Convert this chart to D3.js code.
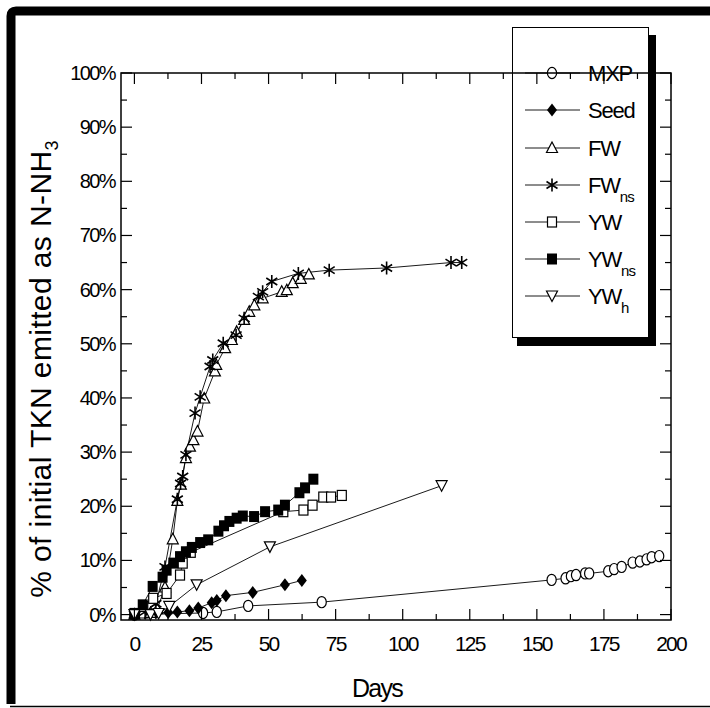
<!DOCTYPE html>
<html><head><meta charset="utf-8">
<script src="https://cdn.jsdelivr.net/npm/d3@7"></script>
<style>
body{margin:0;background:#fff;}
svg text{font-family:"Liberation Sans",Arial,sans-serif;fill:#000;}
</style></head>
<body><svg id="c" width="710" height="708"></svg>
<script>
// ---------- data ----------
const seriesNames = ["MXP","Seed","FW","FWns","YW","YWns","YWh"];
const mxpDays = [0, 25.6, 30.7, 42.4, 69.8, 155.5, 160.7, 162.7, 164.6, 168, 169.5, 176.6, 178.8, 181.6, 185.7, 188.4, 190.9, 192.8, 195.6];
const mxpVals = [0, 0.3, 0.5, 1.6, 2.3, 6.4, 6.7, 7.1, 7.3, 7.6, 7.6, 8.0, 8.4, 8.8, 9.6, 9.8, 10.2, 10.6, 10.8];
const seedDays = [0, 4, 8, 12.6, 16, 20.5, 23.8, 28.8, 30.7, 34.1, 44.1, 56.1, 62.4];
const seedVals = [0, 0.2, 0.3, 0.4, 0.5, 0.7, 1.2, 2.2, 2.6, 3.5, 4.1, 5.5, 6.3];
const fwDays = [0, 3, 6, 8.5, 11.4, 14.3, 16, 17.3, 19.2, 20.7, 22, 23.5, 26, 30, 30.5, 33.8, 36.3, 38.1, 40.9, 42.8, 44.7, 47.8, 54.9, 56.8, 59, 62, 65];
const fwVals = [0, 0.2, 0.3, 1, 5, 13.9, 21, 24, 28.9, 31, 32.2, 33.8, 39.9, 44.9, 46.1, 49.2, 50.7, 52.2, 54.4, 55.9, 57.1, 58.4, 59.6, 59.9, 61.2, 62, 62.8];
const fwnsDays = [0, 4, 8, 11.4, 16, 17.2, 18, 19.2, 22.6, 24.5, 28.2, 29.2, 33.1, 37.9, 40.9, 46.2, 47.8, 51.2, 61.1, 72.6, 94, 118, 122];
const fwnsVals = [0, 0.5, 2, 8.8, 21.3, 24.2, 25.5, 29.5, 37.2, 40.2, 45.8, 47, 50.1, 51.6, 54.7, 58.7, 59.6, 61.5, 63, 63.6, 64, 65, 65];
const ywDays = [0.2, 3.3, 7, 12, 17, 18, 21, 55.5, 63, 66.4, 70.4, 73.3, 77.3];
const ywVals = [0.2, 1.5, 3.0, 3.9, 7.3, 9.5, 11.5, 19, 19.3, 20.2, 21.7, 21.7, 22];
const ywnsDays = [0, 3.1, 6.8, 10.5, 12, 14.5, 17, 19.2, 21.4, 24.5, 27.5, 31.3, 33.4, 35.4, 38.1, 40.4, 44.6, 48.7, 53.6, 56.1, 61.5, 63.6, 66.7];
const ywnsVals = [0.2, 1.8, 5.2, 6.9, 8.2, 9.5, 10.7, 11.6, 12.4, 13.3, 13.8, 15.4, 16.4, 17.2, 17.8, 18.2, 18.1, 19, 19.3, 20.2, 22.5, 23.4, 25];
const ywhDays = [0, 6, 9, 13, 23.2, 50.5, 114.5];
const ywhVals = [0, 0, 0.2, 1.5, 5.5, 12.5, 23.8];
const xTicks = [0, 25, 50, 75, 100, 125, 150, 175, 200];
const yTicks = [0,10,20,30,40,50,60,70,80,90,100];

// ---------- setup ----------
const svg = d3.select("#c");
const x = d3.scaleLinear([-5, 200], [121, 671]);
const y = d3.scaleLinear([-1, 100], [620, 73]);

// outer frame
svg.append("path").attr("d","M11,704 L11,16 Q11,11 16,11 L710,11").attr("fill","none").attr("stroke","#000").attr("stroke-width",9);
svg.append("line").attr("x1",10).attr("x2",710).attr("y1",706.5).attr("y2",706.5).attr("stroke","#000").attr("stroke-width",1.5);

const series = [
  {name:"MXP", d:mxpDays, v:mxpVals, sym:"circle"},
  {name:"Seed", d:seedDays, v:seedVals, sym:"diamond"},
  {name:"FW", d:fwDays, v:fwVals, sym:"tri"},
  {name:"FWns", d:fwnsDays, v:fwnsVals, sym:"star"},
  {name:"YW", d:ywDays, v:ywVals, sym:"square"},
  {name:"YWns", d:ywnsDays, v:ywnsVals, sym:"fsquare"},
  {name:"YWh", d:ywhDays, v:ywhVals, sym:"dtri"}
];

function marker(g, sym, cx, cy){
  const s = g.append("g").attr("transform",`translate(${cx},${cy})`);
  if(sym==="circle") s.append("ellipse").attr("rx",4.6).attr("ry",5.6).attr("fill","#fff").attr("stroke","#000").attr("stroke-width",1.2);
  if(sym==="diamond") s.append("path").attr("d","M0,-6.5 L5,0 L0,6.5 L-5,0 Z").attr("fill","#000");
  if(sym==="tri") s.append("path").attr("d","M0,-6 L5.5,4.5 L-5.5,4.5 Z").attr("fill","#fff").attr("stroke","#000").attr("stroke-width",1.2);
  if(sym==="dtri") s.append("path").attr("d","M0,5.5 L5.5,-5 L-5.5,-5 Z").attr("fill","#fff").attr("stroke","#000").attr("stroke-width",1.2);
  if(sym==="square") s.append("rect").attr("x",-4.5).attr("y",-5).attr("width",9).attr("height",10).attr("fill","#fff").attr("stroke","#000").attr("stroke-width",1.2);
  if(sym==="fsquare") s.append("rect").attr("x",-5).attr("y",-5.5).attr("width",10).attr("height",11).attr("fill","#000");
  if(sym==="star") s.append("path").attr("d","M0,-6.5 L0,6.5 M-5.5,-3.5 L5.5,3.5 M-5.5,3.5 L5.5,-3.5").attr("fill","none").attr("stroke","#000").attr("stroke-width",1.6);
}

const line = d3.line().x(p=>x(p[0])).y(p=>y(p[1]));
const plot = svg.append("g");
series.forEach(s=>{
  const pts = s.d.map((dd,i)=>[dd, s.v[i]]);
  plot.append("path").attr("d", line(pts)).attr("fill","none").attr("stroke","#000").attr("stroke-width",0.9);
});
series.forEach(s=>{
  s.d.forEach((dd,i)=> marker(plot, s.sym, x(dd), y(s.v[i])));
});

// legend
const lg = svg.append("g");
lg.append("rect").attr("x",649).attr("y",35).attr("width",7).attr("height",311).attr("fill","#000");
lg.append("rect").attr("x",517).attr("y",337).attr("width",139).attr("height",9).attr("fill","#000");
lg.append("rect").attr("x",512.5).attr("y",27.5).attr("width",136).attr("height",310).attr("fill","#fff").attr("stroke","#000").attr("stroke-width",1);
const legY = [73, 110, 148, 185, 222, 259, 296];
series.forEach((s,i)=>{
  const yy = legY[i];
  lg.append("line").attr("x1",525).attr("x2",580).attr("y1",yy).attr("y2",yy).attr("stroke","#000").attr("stroke-width",0.9);
  marker(lg, s.sym, 552, yy);
  const t = lg.append("text").attr("x",588).attr("y",yy+7.5).attr("font-size",22).attr("letter-spacing",-1.2);
  const base = s.name.replace(/(ns|h)$/,"");
  const sub = s.name.slice(base.length);
  t.append("tspan").text(base);
  if(sub) t.append("tspan").attr("font-size",15).attr("dy",9).attr("letter-spacing",-0.8).text(sub);
});

// axes
const ax = svg.append("g");
ax.append("rect").attr("x",x(-5)).attr("y",y(100)).attr("width",x(200)-x(-5)).attr("height",y(-1)-y(100)).attr("fill","none").attr("stroke","#000").attr("stroke-width",1.5);
const xt = d3.range(0, 200.1, 12.5);
xt.forEach(t=>{
  const maj = t%25===0; const L = maj?11:6;
  ax.append("line").attr("x1",x(t)).attr("x2",x(t)).attr("y1",y(-1)).attr("y2",y(-1)-L).attr("stroke","#000").attr("stroke-width",1.2);
  ax.append("line").attr("x1",x(t)).attr("x2",x(t)).attr("y1",y(100)).attr("y2",y(100)+L).attr("stroke","#000").attr("stroke-width",1.2);
});
const yt = d3.range(0, 100.1, 5);
yt.forEach(t=>{
  const maj = t%10===0; const L = maj?11:6;
  ax.append("line").attr("x1",x(-5)).attr("x2",x(-5)+L).attr("y1",y(t)).attr("y2",y(t)).attr("stroke","#000").attr("stroke-width",1.2);
  ax.append("line").attr("x1",x(200)).attr("x2",x(200)-L).attr("y1",y(t)).attr("y2",y(t)).attr("stroke","#000").attr("stroke-width",1.2);
});
xTicks.forEach(t=>{
  ax.append("text").attr("x",x(t)).attr("y",651).attr("text-anchor","middle").attr("font-size",21).attr("letter-spacing",-1.8).text(t);
});
yTicks.forEach(t=>{
  ax.append("text").attr("x",115).attr("y",y(t)+7).attr("text-anchor","end").attr("font-size",20).attr("letter-spacing",-1.6).text(t+"%");
});
ax.append("text").attr("x",377).attr("y",697).attr("text-anchor","middle").attr("font-size",25).attr("letter-spacing",-1.8).text("Days");
const yl = ax.append("text").attr("transform","translate(51,140) rotate(-90)").attr("text-anchor","end").attr("font-size",30).attr("letter-spacing",0.4);
yl.append("tspan").text("% of initial TKN emitted as N-NH");
yl.append("tspan").attr("font-size",18).attr("dy",7).text("3");
</script></body></html>
